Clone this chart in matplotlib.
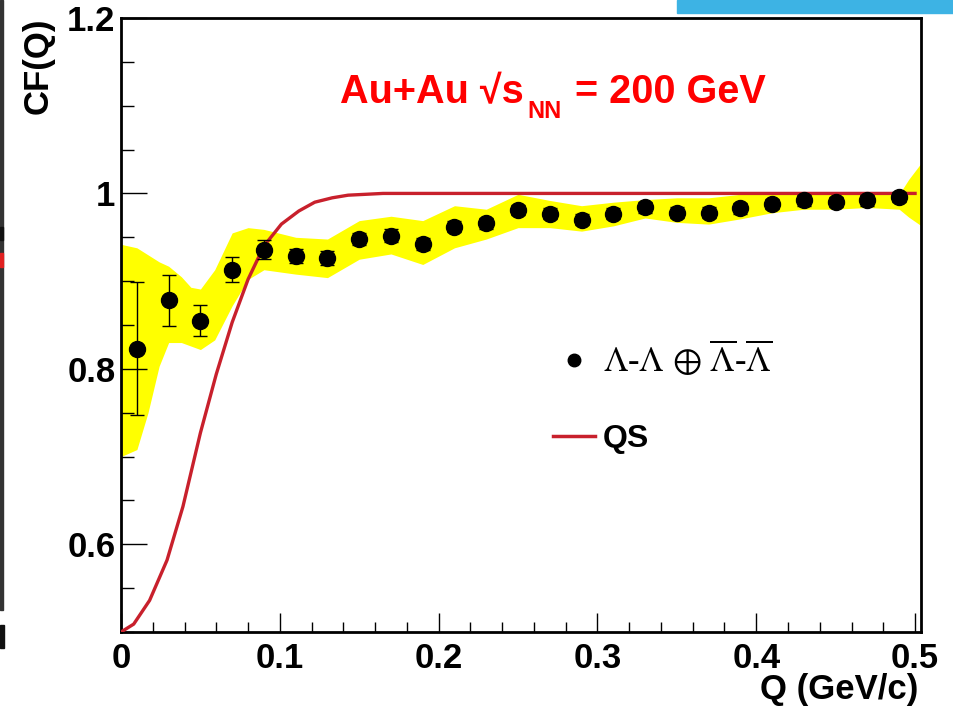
import numpy as np
import matplotlib
matplotlib.use('Agg')
import matplotlib.pyplot as plt
from matplotlib.lines import Line2D
from matplotlib.patches import Rectangle
from matplotlib.ticker import MultipleLocator
from matplotlib.font_manager import FontProperties

plt.rcParams['font.family'] = ['Liberation Sans', 'DejaVu Sans']

# Lambda-Lambda correlation function, Au+Au 200 GeV
q = [0.01, 0.03, 0.05, 0.07, 0.09, 0.11, 0.13, 0.15, 0.17, 0.19, 0.21, 0.23, 0.25,
     0.27, 0.29, 0.31, 0.33, 0.35, 0.37, 0.39, 0.41, 0.43, 0.45, 0.47, 0.49]
cf = [0.823, 0.878, 0.855, 0.913, 0.936, 0.929, 0.926, 0.948, 0.952, 0.942, 0.962, 0.966, 0.981,
      0.977, 0.970, 0.977, 0.984, 0.978, 0.978, 0.983, 0.988, 0.992, 0.990, 0.992, 0.996]
cf_err = [0.076, 0.029, 0.018, 0.014, 0.011, 0.008, 0.008, 0.007, 0.007, 0.007, 0.006, 0.006, 0.006,
          0.006, 0.006, 0.006, 0.006, 0.006, 0.006, 0.006, 0.006, 0.006, 0.006, 0.006, 0.006]

# systematic band (yellow)
band_q = [0.0, 0.01, 0.017, 0.024, 0.03, 0.038, 0.044, 0.05, 0.059, 0.07, 0.08, 0.09, 0.11,
          0.13, 0.15, 0.17, 0.19, 0.21, 0.23, 0.25, 0.27, 0.29, 0.31, 0.33, 0.35, 0.37,
          0.39, 0.41, 0.43, 0.45, 0.47, 0.49, 0.496, 0.504]
band_hi = [0.942, 0.938, 0.930, 0.922, 0.917, 0.905, 0.893, 0.891, 0.913, 0.955, 0.961, 0.959, 0.950,
           0.948, 0.969, 0.974, 0.969, 0.986, 0.982, 0.999, 0.992, 0.986, 0.990, 0.993, 0.995, 0.995,
           0.999, 0.999, 0.999, 0.999, 0.999, 0.999, 1.016, 1.035]
band_lo = [0.700, 0.708, 0.750, 0.803, 0.830, 0.830, 0.826, 0.822, 0.833, 0.872, 0.902, 0.913, 0.908,
           0.904, 0.925, 0.931, 0.919, 0.938, 0.948, 0.961, 0.961, 0.957, 0.963, 0.972, 0.967, 0.965,
           0.971, 0.978, 0.982, 0.982, 0.984, 0.982, 0.973, 0.963]

# quantum statistics curve
qs_q = [0.0, 0.008, 0.018, 0.029, 0.039, 0.05, 0.06, 0.07, 0.08, 0.09, 0.101, 0.112,
        0.122, 0.133, 0.143, 0.154, 0.165, 0.5]
qs_cf = [0.500, 0.509, 0.536, 0.582, 0.643, 0.727, 0.794, 0.853, 0.902, 0.940, 0.965, 0.980,
         0.990, 0.995, 0.998, 0.999, 1.0, 1.0]

W, H = 954, 708
red = '#c8202c'

fig = plt.figure(figsize=(W / 100, H / 100), dpi=100)
ax = fig.add_axes([121 / W, (H - 632) / H, 800.4 / W, 614 / H])

ax.fill_between(band_q, band_lo, band_hi, color='#ffff00', lw=0, zorder=1)
ax.plot(qs_q, qs_cf, color=red, lw=2.4, zorder=3)
ax.errorbar(q, cf, yerr=cf_err, fmt='o', ms=11.5, color='black', ecolor='black',
            elinewidth=1, capsize=5, capthick=1, zorder=4)

ax.set_xlim(0, 0.504)
ax.set_ylim(0.5, 1.2)
ax.xaxis.set_minor_locator(MultipleLocator(0.02))
ax.yaxis.set_minor_locator(MultipleLocator(0.05))
ax.set_xticks([0, 0.1, 0.2, 0.3, 0.4, 0.5])
ax.set_xticklabels(['0', '0.1', '0.2', '0.3', '0.4', '0.5'], fontweight='bold')
ax.set_yticks([0.6, 0.8, 1.0, 1.2])
ax.set_yticklabels(['0.6', '0.8', '1', '1.2'], fontweight='bold')

ax.tick_params(axis='x', which='major', direction='in', length=14, width=1, pad=7, labelsize=25)
ax.tick_params(axis='x', which='minor', direction='in', length=7, width=1)
ax.tick_params(axis='y', which='major', direction='in', length=19, width=1, pad=4, labelsize=25)
ax.tick_params(axis='y', which='minor', direction='in', length=9.5, width=1)
for s in ax.spines.values():
    s.set_linewidth(2)

fig.text(38 / W, 1 - 18 / H, 'CF(Q)', rotation=90, ha='center', va='top',
         fontsize=25, fontweight='bold')
fig.text(918 / W, 1 - 706 / H, 'Q (GeV/c)', ha='right', va='bottom',
         fontsize=25, fontweight='bold')

# title built from pieces so the subscript sits low like the original
renderer = fig.canvas.get_renderer()
tkw = dict(color='red', fontweight='bold', va='baseline')
t1 = fig.text(340 / W, 1 - 103 / H, 'Au+Au √s', fontsize=28.5, **tkw)
bb = t1.get_window_extent(renderer)
t2 = fig.text((bb.x1 + 4) / W, 1 - 118 / H, 'NN', fontsize=17, **tkw)
bb2 = t2.get_window_extent(renderer)
fig.text((bb2.x1 + 2) / W, 1 - 103 / H, ' = 200 GeV', fontsize=28.5, **tkw)

h1 = Line2D([], [], marker='o', ms=9, color='black', ls='none')
h2 = Line2D([], [], color=red, lw=2.5)
lab1 = r'$\Lambda$-$\Lambda$ $\oplus$ $\overline{\Lambda}$-$\overline{\Lambda}$'
leg = ax.legend([h1, h2], [lab1, 'QS'], loc='upper left', bbox_to_anchor=(553 / W, 1 - 339 / H),
                bbox_transform=fig.transFigure, frameon=False, fontsize=23, handlelength=1.3,
                handletextpad=0.25, labelspacing=1.4, borderpad=0, borderaxespad=0)
t_a, t_b = leg.get_texts()
t_a.set_fontproperties(FontProperties(family=['Liberation Serif', 'DejaVu Serif'], weight='normal',
                                      size=25, math_fontfamily='stix'))
t_b.set_fontweight('bold')

# bits of the slide around the plot
fig.patches.append(Rectangle((677 / W, 1 - 13 / H), (W - 677) / W, 13 / H,
                             transform=fig.transFigure, color='#3db3e4'))
fig.patches.append(Rectangle((0, 1 - 610 / H), 2.5 / W, 610 / H,
                             transform=fig.transFigure, color='#333333'))
fig.patches.append(Rectangle((0, 1 - 648 / H), 4 / W, 23 / H,
                             transform=fig.transFigure, color='#111111'))
fig.patches.append(Rectangle((0, 1 - 240 / H), 3.5 / W, 13 / H,
                             transform=fig.transFigure, color='#111111'))
fig.patches.append(Rectangle((0, 1 - 267 / H), 3.5 / W, 14 / H,
                             transform=fig.transFigure, color='#e02020'))

fig.savefig('out.png', dpi=100)
